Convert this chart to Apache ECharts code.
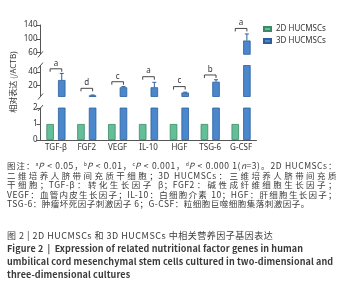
<!DOCTYPE html>
<html lang="zh">
<head>
<meta charset="UTF-8">
<title>HUCMSCs</title>
<script src="https://cdn.jsdelivr.net/npm/echarts@6.0.0/dist/echarts.min.js"></script>
<style>
    *{margin:0;padding:0;}
    html,body{width:347px;height:300px;background:#fff;overflow:hidden;}
    .chart{position:absolute;left:0;top:0;width:347px;height:165px;}
    .ln,.title,.title-en{position:absolute;left:7px;white-space:nowrap;color:#3a3a3a;
        font-family:"Noto Sans CJK SC","Noto Sans",sans-serif;}
    .ln{font-size:8.5px;line-height:9.5px;height:9.5px;letter-spacing:0.5px;}
    .ln.j{width:330px;text-align:justify;text-align-last:justify;}
    .ln i{font-style:italic;}
    .ln .s{font-size:5px;position:relative;top:-3px;letter-spacing:0;}
    .title{top:231px;font-size:9px;line-height:10px;letter-spacing:0.5px;}
    .title-en{top:243px;font-size:9px;line-height:12.8px;font-weight:bold;letter-spacing:0.1px;}
</style>
</head>
<body>
<div class="chart"></div>
<div class="ln j" style="top:161px">图注：<span class="s">a</span><i>P</i> &lt; 0.05，<span class="s">b</span><i>P</i> &lt; 0.01，<span class="s">c</span><i>P</i> &lt; 0.001，<span class="s">d</span><i>P</i> &lt; 0.000 1(<i>n</i>=3)。2D HUCMSCs：</div>
<div class="ln j" style="top:170.5px">二维培养人脐带间充质干细胞；3D HUCMSCs：三维培养人脐带间充质</div>
<div class="ln j" style="top:180px">干细胞；TGF-β：转化生长因子 β；FGF2：碱性成纤维细胞生长因子；</div>
<div class="ln j" style="top:189.5px">VEGF：血管内皮生长因子；IL-10：白细胞介素 10；HGF：肝细胞生长因子；</div>
<div class="ln" style="top:199px">TSG-6：肿瘤坏死因子刺激因子 6；G-CSF：粒细胞巨噬细胞集落刺激因子。</div>
<div class="title">图 2 | 2D HUCMSCs 和 3D HUCMSCs 中相关营养因子基因表达</div>
<div class="title-en">
Figure 2 &nbsp;| &nbsp;Expression of related nutritional factor genes in human<br>
umbilical cord mesenchymal stem cells cultured in two-dimensional and<br>
three-dimensional cultures
</div>
<script>
    // data
    const categories = ['TGF-β', 'FGF2', 'VEGF', 'IL-10', 'HGF', 'TSG-6', 'G-CSF'];
    const values2D = [1, 1, 1, 1, 1, 1, 1];
    const values3D = [28, 4.8, 17, 17, 9, 25.4, 95];
    const errors3D = [10, 0.5, 1, 7.5, 0.6, 3, 19];
    const sigLetters = ['a', 'd', 'c', 'a', 'c', 'b', 'a'];
    const sigLevels = [45, 15.4, 25.4, 33, 18, 35.6, 130];
    const topTicks = [60, 100, 140];
    const midTicks = [20, 40];
    const lowTicks = [0, 1, 2];

    const green = '#63bf97', greenEdge = '#3b8a66';
    const blue = '#4a87cc', blueEdge = '#2d5f9c';
    const axisColor = '#555';
    const font = 'Noto Sans';

    // three stacked pieces of a broken y axis
    const grids = [
        {left: 40.5, width: 216, top: 25, height: 29.3},
        {left: 40.5, width: 216, top: 65.5, height: 31},
        {left: 40.5, width: 216, top: 108, height: 32}
    ];
    const ranges = [[55, 140], [3, 50], [0, 2]];
    const tickSets = [topTicks, midTicks, lowTicks];

    const barW = 7.5;
    const shift = (barW + barW * 0.55) / 2;

    let container = document.querySelector('.chart');
    let chart = echarts.init(container);

    function inside(cs, y) {
        return y >= cs.y - 0.5 && y <= cs.y + cs.height + 0.5;
    }

    function errorItem(params, api) {
        let i = api.value(0);
        let v = api.value(1);
        let e = api.value(2);
        let cs = params.coordSys;
        let base = api.coord([i, v]);
        let tip = api.coord([i, v + e]);
        let x = base[0] + shift;
        let y1 = Math.min(Math.max(base[1], cs.y), cs.y + cs.height);
        let y2 = Math.min(Math.max(tip[1], cs.y), cs.y + cs.height);
        if (y1 === y2) return null;
        let children = [{
            type: 'line',
            shape: {x1: x, y1: y1, x2: x, y2: y2},
            style: {stroke: blueEdge, lineWidth: 1}
        }];
        if (inside(cs, tip[1])) {
            children.push({
                type: 'line',
                shape: {x1: x - 2, y1: tip[1], x2: x + 2, y2: tip[1]},
                style: {stroke: blueEdge, lineWidth: 1}
            });
        }
        return {type: 'group', children};
    }

    function bracketItem(params, api) {
        let i = api.value(0);
        let p = api.coord([i, api.value(1)]);
        if (!inside(params.coordSys, p[1])) return null;
        let l = p[0] - shift, r = p[0] + shift, y = p[1];
        return {
            type: 'group',
            children: [{
                type: 'polyline',
                shape: {points: [[l, y + 3], [l, y], [r, y], [r, y + 3]]},
                style: {stroke: '#333', lineWidth: 0.9, fill: null}
            }, {
                type: 'text',
                x: p[0], y: y - 1.5,
                style: {
                    text: sigLetters[params.dataIndex],
                    fill: '#333', font: '8px ' + font,
                    align: 'center', verticalAlign: 'bottom'
                }
            }]
        };
    }

    let xAxis = [], yAxis = [], series = [];
    grids.forEach((g, k) => {
        let bottom = k === grids.length - 1;
        xAxis.push({
            type: 'category',
            gridIndex: k,
            data: categories,
            show: bottom,
            axisLine: {lineStyle: {color: axisColor, width: 1}},
            axisTick: {alignWithLabel: true, length: 3, lineStyle: {color: axisColor}},
            axisLabel: {fontSize: 8, color: '#333', margin: 4, fontFamily: font}
        });
        yAxis.push({
            type: 'value',
            gridIndex: k,
            min: ranges[k][0],
            max: ranges[k][1],
            splitLine: {show: false},
            axisLine: {show: true, lineStyle: {color: axisColor, width: 1}},
            axisTick: {show: true, length: 4, customValues: tickSets[k], lineStyle: {color: axisColor}},
            axisLabel: {fontSize: 8, color: '#333', margin: 3, fontFamily: font, customValues: tickSets[k]}
        });
        series.push({
            name: '2D HUCMSCs', type: 'bar', xAxisIndex: k, yAxisIndex: k,
            data: values2D, barWidth: barW, barGap: '55%', clip: true,
            itemStyle: {color: green, borderColor: greenEdge, borderWidth: 0.8}
        }, {
            name: '3D HUCMSCs', type: 'bar', xAxisIndex: k, yAxisIndex: k,
            data: values3D, barWidth: barW, barGap: '55%', clip: true,
            itemStyle: {color: blue, borderColor: blueEdge, borderWidth: 0.8}
        }, {
            type: 'custom', xAxisIndex: k, yAxisIndex: k, silent: true,
            renderItem: errorItem, z: 3,
            data: values3D.map((v, i) => [i, v, errors3D[i]])
        }, {
            type: 'custom', xAxisIndex: k, yAxisIndex: k, silent: true,
            renderItem: bracketItem, z: 3,
            data: sigLevels.map((v, i) => [i, v])
        });
    });

    let option = {
        animation: false,
        grid: grids,
        xAxis,
        yAxis,
        series,
        legend: {
            data: ['2D HUCMSCs', '3D HUCMSCs'],
            orient: 'vertical',
            left: 258,
            top: 20,
            itemWidth: 7,
            itemHeight: 4,
            itemGap: 4,
            icon: 'rect',
            textStyle: {fontSize: 8, color: '#333', fontFamily: font}
        },
        graphic: [{
            type: 'text',
            x: 13, y: 82,
            rotation: Math.PI / 2,
            style: {
                text: '相对表达 (/ACTB)',
                font: '8px "Noto Sans CJK SC"',
                fill: '#333',
                align: 'center', verticalAlign: 'middle'
            }
        }]
    };
    chart.setOption(option);

    // slashes where the axis is broken
    let breaks = [[0, ranges[0][0]], [1, ranges[1][1]], [1, ranges[1][0]], [2, ranges[2][1]]];
    let marks = breaks.map(([k, v]) => {
        let y = chart.convertToPixel({yAxisIndex: k}, v);
        let x = grids[k].left;
        return {
            type: 'line',
            shape: {x1: x - 2.5, y1: y + 3, x2: x + 2.5, y2: y - 3},
            style: {stroke: axisColor, lineWidth: 1}
        };
    });
    chart.setOption({graphic: option.graphic.concat(marks)});
</script>
</body>
</html>
